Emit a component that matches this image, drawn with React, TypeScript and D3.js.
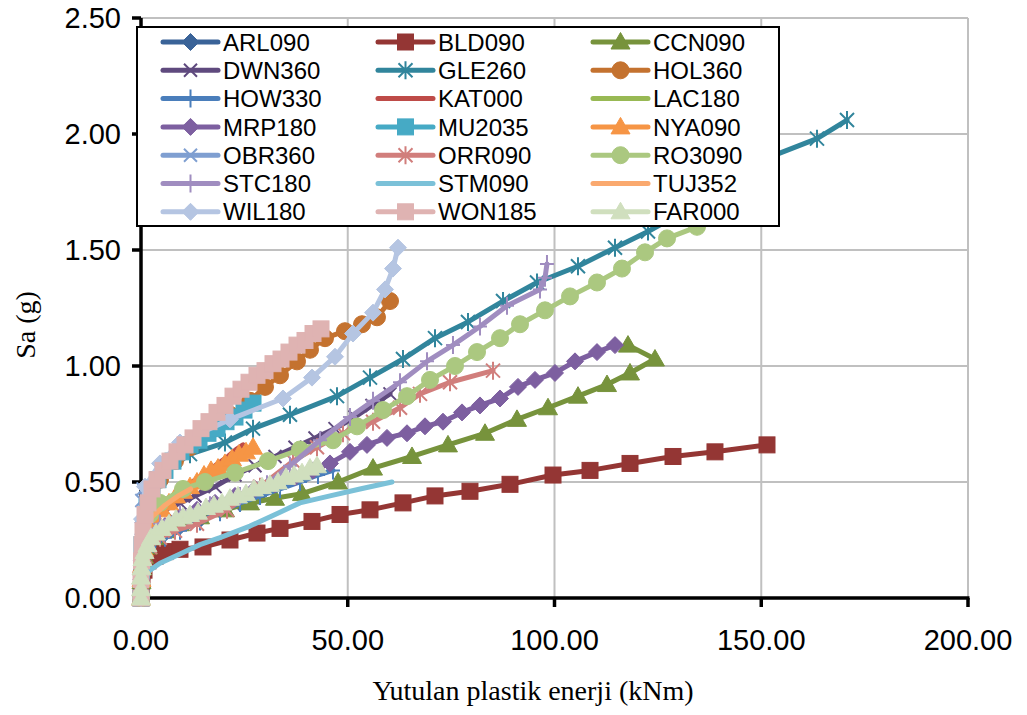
import React from 'react';
import * as d3 from 'd3';

// ---- data (x: absorbed plastic energy kNm, y: Sa g) ----
const ARL090: [number, number][] = [[0,0],[0.12,0.06],[0.24,0.12],[0.73,0.17],[1.69,0.22],[3.39,0.25],[5.8,0.28],[9.43,0.31],[14.27,0.34],[19.11,0.38],[23.94,0.41],[28.3,0.44]];
const BLD090: [number, number][] = [[0,0],[0.12,0.03],[0.24,0.08],[0.73,0.12],[1.69,0.16],[3.39,0.18],[5.8,0.2],[9.43,0.21],[14.99,0.22],[21.52,0.25],[28.05,0.28],[33.62,0.3],[41.35,0.33],[48.13,0.36],[55.38,0.38],[63.36,0.41],[71.1,0.44],[79.56,0.46],[89.24,0.49],[99.64,0.53],[108.59,0.55],[118.26,0.58],[128.66,0.61],[138.81,0.63],[151.39,0.66]];
const CCN090: [number, number][] = [[0,0],[0.12,0.07],[0.24,0.13],[0.73,0.18],[1.69,0.22],[3.39,0.26],[5.8,0.29],[9.43,0.32],[14.27,0.35],[20.31,0.38],[26.36,0.41],[32.41,0.43],[38.94,0.45],[47.64,0.5],[56.11,0.56],[65.54,0.61],[74.24,0.66],[83.19,0.71],[90.93,0.77],[98.43,0.82],[105.68,0.87],[112.7,0.92],[118.26,0.97],[124.3,1.03],[117.77,1.09]];
const DWN360: [number, number][] = [[0,0],[0.12,0.1],[0.24,0.19],[0.73,0.25],[1.69,0.3],[3.39,0.34],[5.8,0.38],[9.43,0.41],[13.06,0.44],[17.9,0.48],[22.73,0.53],[27.57,0.57],[32.41,0.61],[37.24,0.65],[42.08,0.69],[46.92,0.73],[51.75,0.78],[55.86,0.83],[60.22,0.88]];
const GLE260: [number, number][] = [[0,0],[0.24,0.16],[0.97,0.34],[2.66,0.47],[5.8,0.55],[11.85,0.62],[20.31,0.67],[27.09,0.73],[36.03,0.79],[47.4,0.87],[55.38,0.95],[63.36,1.03],[71.1,1.12],[79.08,1.19],[87.55,1.28],[95.77,1.36],[105.68,1.43],[114.63,1.51],[122.61,1.58],[130.83,1.66],[138.81,1.73],[145.5,1.82],[152.0,1.90],[163.48,1.98],[170.74,2.06]];
const HOL360: [number, number][] = [[0,0],[0.24,0.16],[0.97,0.29],[2.18,0.4],[4.59,0.51],[8.22,0.59],[11.85,0.65],[16.69,0.72],[21.52,0.79],[26.36,0.85],[29.99,0.91],[33.62,0.96],[37.73,1.02],[40.87,1.07],[44.5,1.12],[49.33,1.15],[53.45,1.18],[57.07,1.21],[60.22,1.28]];
const HOW330: [number, number][] = [[0,0],[0.12,0.06],[0.24,0.11],[0.73,0.16],[1.69,0.2],[3.39,0.24],[5.8,0.26],[9.43,0.29],[14.27,0.33],[19.11,0.37],[23.94,0.41],[28.78,0.44],[33.62,0.47],[38.45,0.5],[42.8,0.53],[46.43,0.55]];
const KAT000: [number, number][] = [[0,0],[0.24,0.12],[0.73,0.22],[1.69,0.29],[3.39,0.36],[5.8,0.41],[8.95,0.46],[12.33,0.5],[15.72,0.54],[18.62,0.58],[21.04,0.61],[22.97,0.64],[24.67,0.66]];
const LAC180: [number, number][] = [[0,0],[0.24,0.12],[0.97,0.22],[2.66,0.28],[5.8,0.32],[10,0.36],[15,0.39],[20,0.42]];
const MRP180: [number, number][] = [[0,0],[0.12,0.08],[0.24,0.14],[0.73,0.2],[1.69,0.24],[3.39,0.28],[5.8,0.31],[9.43,0.35],[13.54,0.38],[17.9,0.41],[22.73,0.44],[27.57,0.47],[32.41,0.49],[37.24,0.52],[41.6,0.55],[45.71,0.58],[50.54,0.63],[54.65,0.66],[59.49,0.69],[64.33,0.71],[68.68,0.74],[73.03,0.76],[77.63,0.8],[81.98,0.83],[86.82,0.86],[91.17,0.91],[95.28,0.94],[100.12,0.97],[104.96,1.02],[110.28,1.06],[114.63,1.09]];
const MU2035: [number, number][] = [[0,0],[0.12,0.12],[0.24,0.23],[0.73,0.31],[1.45,0.39],[2.66,0.45],[4.11,0.51],[5.8,0.55],[7.74,0.59],[9.67,0.63],[11.85,0.66],[14.03,0.68],[16.2,0.71],[18.38,0.73],[20.56,0.76],[22.73,0.78],[24.91,0.81],[27.09,0.84]];
const NYA090: [number, number][] = [[0,0],[0.12,0.08],[0.24,0.14],[0.73,0.21],[1.45,0.26],[2.42,0.31],[3.63,0.34],[5.08,0.38],[6.77,0.41],[8.46,0.44],[10.16,0.46],[11.85,0.48],[13.54,0.5],[15.24,0.53],[16.93,0.55],[18.62,0.56],[20.31,0.58],[22.01,0.6],[23.7,0.62],[25.39,0.63],[27.09,0.65]];
const OBR360: [number, number][] = [[0,0],[0.05,0.15],[0.1,0.3],[0.2,0.42],[0.5,0.47]];
const ORR090: [number, number][] = [[0,0],[0.12,0.07],[0.24,0.13],[0.97,0.18],[2.18,0.22],[4.59,0.26],[8.22,0.29],[13.54,0.32],[20.8,0.38],[28.78,0.48],[36.76,0.59],[42.56,0.65],[48.85,0.71],[56.11,0.76],[62.64,0.82],[67.47,0.88],[74.73,0.93],[85.13,0.98]];
const RO3090: [number, number][] = [[0,0],[0.24,0.14],[0.97,0.27],[2.18,0.36],[4.59,0.41],[10.16,0.47],[15.48,0.5],[22.73,0.54],[30.71,0.59],[38.45,0.64],[46.43,0.68],[52.24,0.74],[58.52,0.81],[64.33,0.87],[69.89,0.94],[75.94,1.0],[81.26,1.06],[86.82,1.12],[91.66,1.18],[97.7,1.24],[103.75,1.3],[110.28,1.36],[116.32,1.42],[121.89,1.49],[127.21,1.55],[134.46,1.6]];
const STC180: [number, number][] = [[0,0],[0.24,0.12],[0.97,0.22],[2.18,0.28],[4.59,0.32],[9.43,0.36],[16.69,0.4],[23.94,0.44],[30.47,0.49],[36.03,0.57],[43.29,0.68],[50.54,0.78],[56.11,0.85],[62.64,0.93],[69.17,1.02],[75.45,1.09],[81.98,1.17],[88.51,1.26],[96.49,1.33],[97.7,1.38],[98.18,1.44]];
const STM090: [number, number][] = [[0,0],[0.12,0.03],[0.24,0.06],[0.97,0.09],[2.18,0.12],[4.59,0.15],[9.43,0.19],[14.27,0.23],[19.11,0.26],[26.36,0.31],[33.62,0.37],[38.45,0.41],[45.71,0.44],[52.96,0.47],[60.7,0.5]];
const TUJ352: [number, number][] = [[0,0],[0.24,0.15],[0.97,0.27],[2.66,0.35],[5.8,0.4],[9,0.44],[12,0.47]];
const WIL180: [number, number][] = [[0,0],[0.12,0.16],[0.24,0.34],[0.97,0.48],[4.59,0.58],[9.43,0.67],[21.52,0.77],[34.34,0.86],[41.35,0.95],[46.92,1.04],[51.27,1.14],[56.11,1.23],[59.01,1.33],[60.94,1.42],[62.15,1.51]];
const WON185: [number, number][] = [[0,0],[0,0.08],[0.12,0.16],[0.24,0.23],[0.48,0.29],[0.97,0.36],[1.69,0.41],[2.66,0.47],[3.87,0.51],[5.32,0.55],[7.01,0.59],[8.71,0.63],[10.64,0.66],[12.58,0.69],[14.51,0.73],[16.44,0.76],[18.38,0.8],[20.31,0.83],[22.25,0.87],[24.18,0.9],[26.12,0.93],[28.05,0.96],[29.99,0.98],[31.92,1.01],[33.86,1.03],[35.79,1.06],[37.73,1.09],[39.66,1.11],[41.6,1.14],[43.53,1.16]];
const FAR000: [number, number][] = [[0,0],[0,0.04],[0,0.09],[0.12,0.13],[0.36,0.17],[0.85,0.2],[1.57,0.23],[2.42,0.26],[3.63,0.28],[5.08,0.3],[6.77,0.32],[8.46,0.34],[10.16,0.35],[11.85,0.36],[13.78,0.37],[15.72,0.39],[17.65,0.4],[19.59,0.41],[21.52,0.43],[23.46,0.44],[25.39,0.45],[27.33,0.47],[29.26,0.48],[31.2,0.49],[33.13,0.5],[35.07,0.52],[37.0,0.53],[38.94,0.54],[40.87,0.56],[42.56,0.57]];

const seriesNames = ['ARL090','BLD090','CCN090','DWN360','GLE260','HOL360','HOW330','KAT000','LAC180','MRP180','MU2035','NYA090','OBR360','ORR090','RO3090','STC180','STM090','TUJ352','WIL180','WON185','FAR000'];
const seriesData = [ARL090,BLD090,CCN090,DWN360,GLE260,HOL360,HOW330,KAT000,LAC180,MRP180,MU2035,NYA090,OBR360,ORR090,RO3090,STC180,STM090,TUJ352,WIL180,WON185,FAR000];
const seriesColors = ['#3A6398','#943634','#77933C','#5F4A7E','#31859C','#C4722F','#4A7EBB','#BE4B48','#98B954','#7D5FA0','#46AAC5','#F69545','#7F9FD1','#D17E7C','#ABC880','#A08DC0','#7BC1D8','#FAA96F','#B5C5E2','#DFB3B2','#D0DFBE'];
const seriesMarkers = ['diamond','square','triangle','x','asterisk','circle','plus','none','none','diamond','square','triangle','x','asterisk','circle','plus','none','none','diamond','square','triangle'];

const xTicks = [0, 50, 100, 150, 200];
const yTicks = [0, 0.5, 1.0, 1.5, 2.0, 2.5];
const xTitle = 'Yutulan plastik enerji (kNm)';
const yTitle = 'Sa (g)';

const PLOT = { left: 141, right: 968, top: 18, bottom: 598 };

function Marker({ type, color, x, y }: { type: string; color: string; x: number; y: number }) {
  const t = `translate(${x},${y})`;
  switch (type) {
    case 'diamond':
      return <path transform={t} d="M0,-8.5L8.5,0L0,8.5L-8.5,0Z" fill={color} stroke={color} strokeWidth={1} />;
    case 'square':
      return <rect transform={t} x={-8} y={-8} width={16} height={16} fill={color} stroke={color} strokeWidth={1} />;
    case 'triangle':
      return <path transform={t} d="M0,-9.5L9.5,7L-9.5,7Z" fill={color} stroke={color} strokeWidth={1} />;
    case 'circle':
      return <circle transform={t} r={8.5} fill={color} stroke={color} strokeWidth={1} />;
    case 'x':
      return <path transform={t} d="M-6.5,-6.5L6.5,6.5M-6.5,6.5L6.5,-6.5" fill="none" stroke={color} strokeWidth={2} />;
    case 'asterisk':
      return <path transform={t} d="M-7,-7L7,7M-7,7L7,-7M0,-9L0,9" fill="none" stroke={color} strokeWidth={2} />;
    case 'plus':
      return <path transform={t} d="M-7,0L7,0M0,-9L0,9" fill="none" stroke={color} strokeWidth={2} />;
    default:
      return null;
  }
}

export default function App() {
  const x = d3.scaleLinear().domain([0, 200]).range([PLOT.left, PLOT.right]);
  const y = d3.scaleLinear().domain([0, 2.5]).range([PLOT.bottom, PLOT.top]);
  const line = d3.line<[number, number]>().x(d => x(d[0])).y(d => y(d[1]));
  const tickFont = '"Liberation Sans", Arial, sans-serif';
  const serif = '"Liberation Serif", "Times New Roman", serif';

  const legend = { x: 137, y: 27, w: 642, h: 199, row0: 42, rowH: 28.3, colW: 215, lineX0: 163, lineLen: 55, textX: 223 };

  return (
    <svg width={1027} height={715} style={{ position: 'absolute', left: 0, top: 0, background: '#fff' }}>
      {/* gridlines */}
      <g>
        {yTicks.filter(v => v > 0).map(v => (
          <line key={'gy' + v} x1={PLOT.left} x2={PLOT.right} y1={y(v)} y2={y(v)} stroke="#C0C0C0" strokeWidth={2} />
        ))}
        {xTicks.filter(v => v > 0).map(v => (
          <line key={'gx' + v} x1={x(v)} x2={x(v)} y1={PLOT.top} y2={PLOT.bottom} stroke="#C0C0C0" strokeWidth={2} />
        ))}
      </g>
      {/* axes */}
      <g>
        <line x1={PLOT.left} x2={PLOT.left} y1={PLOT.top} y2={PLOT.bottom + 1.5} stroke="#000" strokeWidth={3.5} />
        <line x1={PLOT.left - 1.5} x2={PLOT.right + 1.5} y1={PLOT.bottom} y2={PLOT.bottom} stroke="#000" strokeWidth={3.5} />
        {yTicks.map(v => (
          <g key={'ty' + v}>
            <line x1={PLOT.left - 9} x2={PLOT.left} y1={y(v)} y2={y(v)} stroke="#000" strokeWidth={3.5} />
            <text x={121} y={y(v)} dy="0.36em" textAnchor="end" fontFamily={tickFont} fontSize={29} fill="#000">{v.toFixed(2)}</text>
          </g>
        ))}
        {xTicks.map(v => (
          <g key={'tx' + v}>
            <line x1={x(v)} x2={x(v)} y1={PLOT.bottom} y2={PLOT.bottom + 9} stroke="#000" strokeWidth={3.5} />
            <text x={x(v)} y={640} dy="0.36em" textAnchor="middle" fontFamily={tickFont} fontSize={29} fill="#000">{v.toFixed(2)}</text>
          </g>
        ))}
        <text x={533} y={690} dy="0.36em" textAnchor="middle" fontFamily={serif} fontSize={28} fill="#000">{xTitle}</text>
        <text transform="translate(25,325) rotate(-90)" dy="0.36em" textAnchor="middle" fontFamily={serif} fontSize={28} fill="#000">{yTitle}</text>
      </g>
      {/* series */}
      <g>
        {seriesData.map((data, i) => (
          <g key={seriesNames[i]}>
            <path d={line(data) || ''} fill="none" stroke={seriesColors[i]} strokeWidth={5} strokeLinejoin="round" strokeLinecap="round" />
            {seriesMarkers[i] !== 'none' && data.map((d, j) => (
              <Marker key={j} type={seriesMarkers[i]} color={seriesColors[i]} x={x(d[0])} y={y(d[1])} />
            ))}
          </g>
        ))}
      </g>
      {/* legend */}
      <g>
        <rect x={legend.x} y={legend.y} width={legend.w} height={legend.h} fill="#fff" stroke="#000" strokeWidth={2} />
        {seriesNames.map((name, i) => {
          const col = i % 3;
          const row = Math.floor(i / 3);
          const ly = legend.row0 + row * legend.rowH;
          const lx = legend.lineX0 + col * legend.colW;
          return (
            <g key={'lg' + name}>
              <line x1={lx} x2={lx + legend.lineLen} y1={ly} y2={ly} stroke={seriesColors[i]} strokeWidth={5} strokeLinecap="round" />
              <Marker type={seriesMarkers[i]} color={seriesColors[i]} x={lx + legend.lineLen / 2} y={ly} />
              <text x={legend.textX + col * legend.colW} y={ly} dy="0.36em" fontFamily={tickFont} fontSize={24} fill="#000">{name}</text>
            </g>
          );
        })}
      </g>
    </svg>
  );
}
